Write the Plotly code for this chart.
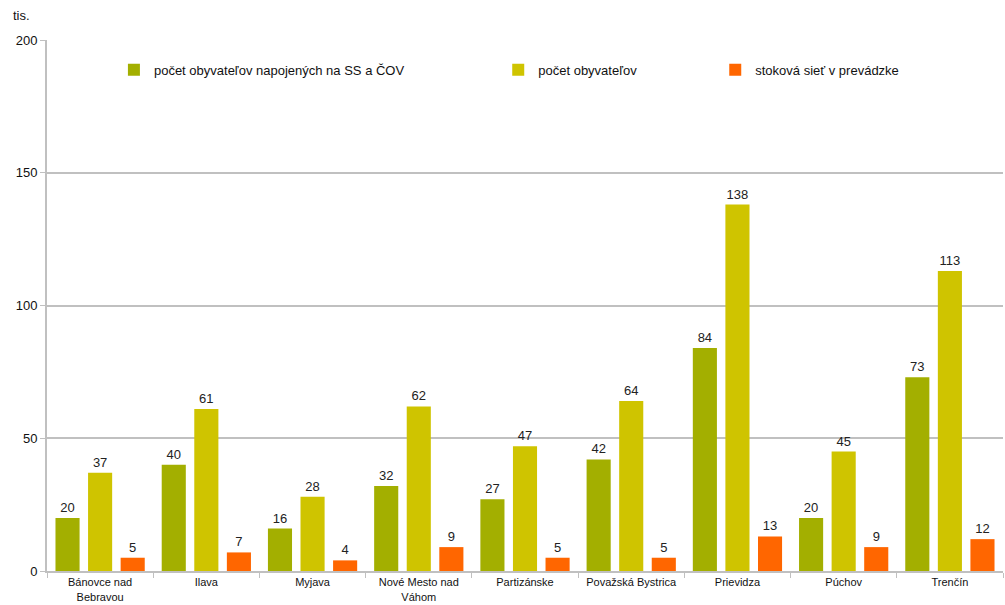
import plotly.graph_objects as go

okresy = ["Bánovce nad<br>Bebravou", "Ilava", "Myjava", "Nové Mesto nad<br>Váhom", "Partizánske",
          "Považská Bystrica", "Prievidza", "Púchov", "Trenčín"]
napojeni = [20, 40, 16, 32, 27, 42, 84, 20, 73]
obyvatelia = [37, 61, 28, 62, 47, 64, 138, 45, 113]
stokova_siet = [5, 7, 4, 9, 5, 5, 13, 9, 12]

serie = [
    ("počet obyvateľov napojených na SS a ČOV", napojeni, "#a3af00", "legend"),
    ("počet obyvateľov", obyvatelia, "#cfc400", "legend2"),
    ("stoková sieť v prevádzke", stokova_siet, "#ff6600", "legend3"),
]

fig = go.Figure()
for name, vals, color, leg in serie:
    fig.add_trace(go.Bar(
        x=okresy, y=vals, name=name, legend=leg, showlegend=True,
        marker=dict(color=color, line=dict(width=0)),
        text=vals, textposition="outside", cliponaxis=False,
        textfont=dict(size=13, color="#222222", family="Liberation Sans, Arial")))

leg_style = dict(orientation="h", yanchor="middle", xanchor="left", y=0.944,
                 bgcolor="rgba(0,0,0,0)", font=dict(size=13, color="#111111"),
                 itemwidth=30, tracegroupgap=0)

fig.update_layout(
    width=1005, height=605,
    margin=dict(l=47, r=2, t=40, b=32),
    paper_bgcolor="white", plot_bgcolor="white",
    font=dict(family="Liberation Sans, Arial", color="#111111"),
    showlegend=True,
    barmode="group", bargap=0.08, bargroupgap=0.26,
    legend=dict(x=0.070, **leg_style),
    legend2=dict(x=0.472, **leg_style),
    legend3=dict(x=0.699, **leg_style),
    xaxis=dict(showline=True, linecolor="#c0c0c0", linewidth=2,
               ticks="outside", tickson="boundaries", ticklen=5, tickcolor="#c0c0c0",
               tickfont=dict(size=11, color="#111111")),
    yaxis=dict(range=[0, 200], tickvals=[0, 50, 100, 150, 200],
               showgrid=True, gridcolor="#c0c0c0", gridwidth=2,
               showline=True, linecolor="#c0c0c0", linewidth=2,
               ticks="outside", ticklen=5, tickcolor="#c0c0c0",
               zeroline=False, tickfont=dict(size=13, color="#111111")),
    annotations=[dict(text="tis.", xref="paper", yref="paper", x=-0.038, y=1.047,
                      xanchor="left", yanchor="middle", showarrow=False,
                      font=dict(size=13, color="#111111"))],
)

fig.write_html("out.html", config={"displayModeBar": False},
               post_script="document.body.style.margin='0px';")
